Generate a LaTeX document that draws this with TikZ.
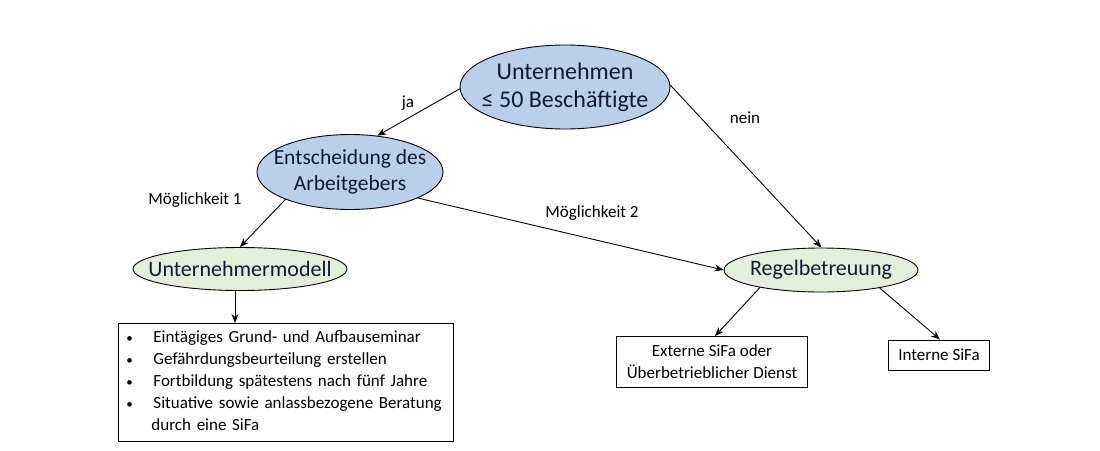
\documentclass[tikz,border=0pt]{standalone}
\usepackage{fontspec}
\setmainfont{Carlito}
\usepackage{tikz}
\usetikzlibrary{arrows.meta,shapes.geometric}
\usepackage{xcolor}
\definecolor{ovalblau}{RGB}{186,207,233}
\definecolor{ovalgruen}{RGB}{226,239,218}
\definecolor{textblau}{RGB}{16,26,52}
\newcommand{\listpunkt}{{\fontsize{13}{13}\selectfont\textbullet}}

\tikzset{
  oval/.style={ellipse,draw=black,line width=0.9pt,inner sep=0pt},
  frage/.style={oval,fill=ovalblau},
  modell/.style={oval,fill=ovalgruen},
  ovaltext/.style={align=center,text=textblau,inner sep=0pt,font=\fontsize{22}{26}\selectfont},
  kasten/.style={rectangle,draw=black,line width=0.9pt,fill=white,align=center,
    inner sep=4pt,font=\fontsize{17}{22}\selectfont},
  marke/.style={font=\fontsize{17}{20}\selectfont},
  pfeil/.style={-{Stealth[length=9pt,width=7pt]},line width=0.9pt}
}

\begin{document}
\begin{tikzpicture}[x=1pt,y=1pt,line cap=round]
\useasboundingbox (0,0) rectangle (1100,-450);
% Knoten
\node[frage,minimum width=210,minimum height=84] (firma) at (565,-87) {};
\node[frage,minimum width=186,minimum height=75] (wahl) at (350,-172) {};
\node[modell,minimum width=214,minimum height=43] (unter) at (240,-269) {};
\node[modell,minimum width=194,minimum height=44] (regel) at (821,-270) {};
\node[ovaltext,font=\fontsize{24}{28}\selectfont] (firmatext) at (firma) {Unternehmen\\≤ 50 Beschäftigte};
\node[ovaltext,font=\fontsize{21.5}{26}\selectfont] (wahltext) at (wahl) {Entscheidung des\\Arbeitgebers};
\node[ovaltext] (untertext) at (unter) {Unternehmermodell};
\node[ovaltext] (regeltext) at (regel) {Regelbetreuung};
\node[kasten,anchor=north west,text width=319,minimum height=114,align=left,inner xsep=8pt] (liste) at (118,-323)
  {\begin{tabular}{@{}p{27pt}@{}l@{}}
   \listpunkt & Eintägiges Grund- und Aufbauseminar\\
   \listpunkt & Gefährdungsbeurteilung erstellen\\
   \listpunkt & Fortbildung spätestens nach fünf Jahre\\
   \listpunkt & Situative sowie anlassbezogene Beratung\\
    & \hspace{-2pt}durch eine SiFa
   \end{tabular}};
\node[kasten,minimum width=191,minimum height=51] (extern) at (712,-362)
  {Externe SiFa oder\\Überbetrieblicher Dienst};
\node[kasten,minimum width=101,minimum height=30] (intern) at (939,-355) {Interne SiFa};
% Beschriftungen
\node[marke] (ja) at (408,-103) {ja};
\node[marke] (nein) at (745,-118) {nein};
\node[marke] (m1) at (195,-200) {Möglichkeit 1};
\node[marke] (m2) at (592,-213) {Möglichkeit 2};
% Pfeile
\draw[pfeil] (firma.181) -- (wahl.53);
\draw[pfeil] (firma.1) -- (regel.89);
\draw[pfeil] (wahl.203) -- (unter.north);
\draw[pfeil] (wahl.339) -- (regel.west);
\draw[pfeil] ([xshift=-5pt]unter.south) -- ([xshift=-5pt]unter.south |- liste.north);
\draw[pfeil] (regel.196) -- ([xshift=3pt]extern.north);
\draw[pfeil] (regel.343) -- ([xshift=1pt]intern.north);
\end{tikzpicture}
\end{document}
